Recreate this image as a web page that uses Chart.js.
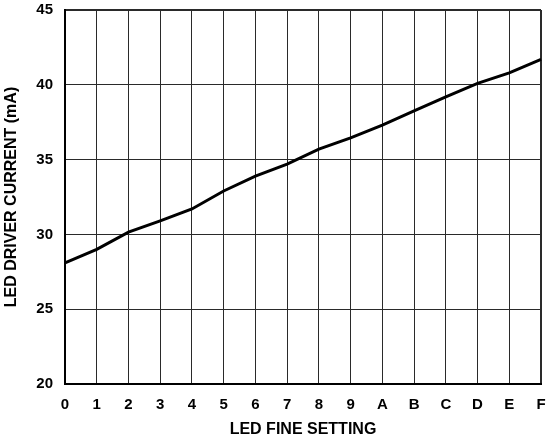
<!DOCTYPE html>
<html>
<head>
<meta charset="utf-8">
<script src="https://cdn.jsdelivr.net/npm/chart.js@4"></script>
<style>
  html, body { margin: 0; padding: 0; background: #fff; }
  #wrap { width: 553px; height: 442px; }
</style>
</head>
<body>
<div id="wrap"><canvas id="ledChart"></canvas></div>
<script>
// LED driver current vs fine setting
const fineSettings = ["0","1","2","3","4","5","6","7","8","9","A","B","C","D","E","F"];
const currentMa    = [28.1, 29.0, 30.15, 30.9, 31.7, 32.9, 33.9, 34.7, 35.7, 36.45, 37.3, 38.25, 39.2, 40.1, 40.8, 41.7];
const yMin  = 20;
const yMax  = 45;
const yStep = 5;

const fontFamily = "'Liberation Sans', Arial, Helvetica, sans-serif";
const gridColor  = "#2a2a2a";

// outer frame lines a bit heavier than inner grid
const edgeWidth = (ctx, last) => (ctx.index === 0 || ctx.index === last) ? 2 : 1;

const ctx = document.getElementById("ledChart").getContext("2d");

new Chart(ctx, {
  type: "line",
  data: {
    labels: fineSettings,
    datasets: [{
      data: currentMa,
      borderColor: "#000",
      borderWidth: 3,
      pointRadius: 0,
      tension: 0,
      fill: false
    }]
  },
  options: {
    responsive: true,
    maintainAspectRatio: false,
    animation: false,
    layout: { padding: { top: 10, right: 12, left: 0, bottom: 0 } },
    plugins: {
      legend: { display: false },
      tooltip: { enabled: false }
    },
    scales: {
      x: {
        offset: false,
        grid: {
          offset: false,
          color: gridColor,
          drawTicks: false,
          lineWidth: c => edgeWidth(c, fineSettings.length - 1)
        },
        border: { color: "#000", width: 2 },
        ticks: {
          color: "#000",
          padding: 12,
          maxRotation: 0,
          autoSkip: false,
          font: { family: fontFamily, size: 15, weight: "bold" }
        },
        title: {
          display: true,
          text: "LED FINE SETTING",
          color: "#000",
          padding: { top: 0, bottom: 3 },
          font: { family: fontFamily, size: 16, weight: "bold" }
        },
        afterFit: s => {
          s.height = 58;
          s.paddingLeft = 0;
          s.paddingRight = 0;
        }
      },
      y: {
        min: yMin,
        max: yMax,
        grid: {
          color: gridColor,
          drawTicks: false,
          lineWidth: c => edgeWidth(c, (yMax - yMin) / yStep)
        },
        border: { color: "#000", width: 2 },
        ticks: {
          stepSize: yStep,
          color: "#000",
          padding: 12,
          font: { family: fontFamily, size: 15, weight: "bold" }
        },
        title: {
          display: true,
          text: "LED DRIVER CURRENT (mA)",
          color: "#000",
          padding: { top: 2, bottom: 0 },
          font: { family: fontFamily, size: 16, weight: "bold" }
        },
        afterFit: s => {
          s.width = 65;
          s.paddingTop = 0;
          s.paddingBottom = 0;
        }
      }
    }
  }
});
</script>
</body>
</html>
